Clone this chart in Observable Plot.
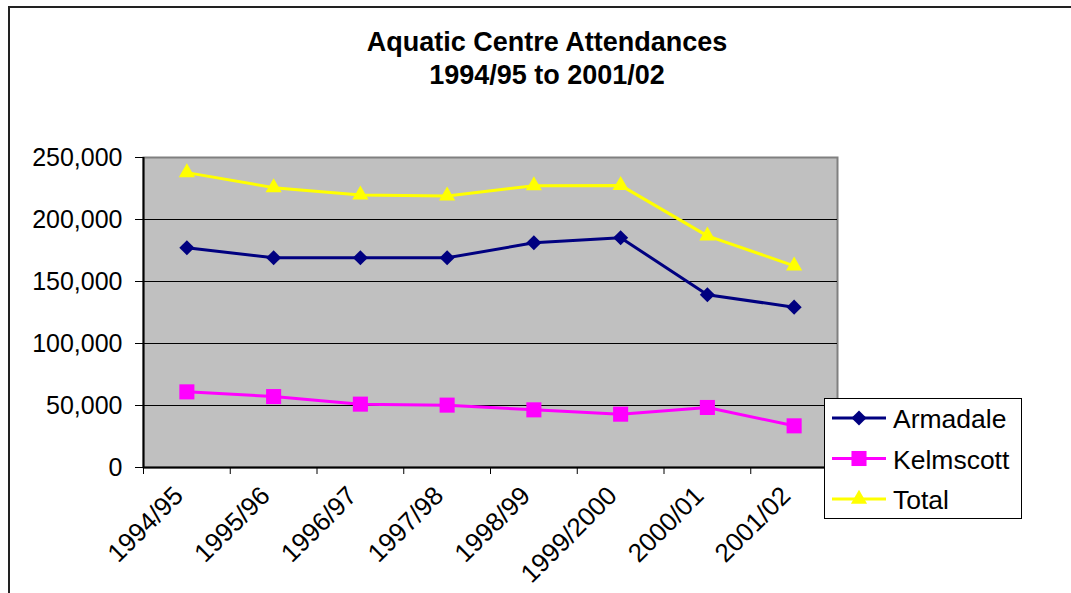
<!DOCTYPE html>
<html>
<head>
<meta charset="utf-8">
<script src="https://cdn.jsdelivr.net/npm/d3@7"></script>
<script src="https://cdn.jsdelivr.net/npm/@observablehq/plot@0.6"></script>
<style>
html, body { margin: 0; padding: 0; background: #fff; }
#wrap { position: relative; width: 1071px; height: 593px; overflow: hidden; font-family: "Liberation Sans", Arial, sans-serif; color: #000; }
#frame { position: absolute; left: 8px; top: 6px; width: 1200px; height: 800px; border-top: 2px solid #222; border-left: 2px solid #222; }
#title { position: absolute; left: 0; width: 1094px; top: 26px; text-align: center; font-weight: bold; font-size: 27px; line-height: 33px; }
#chart { position: absolute; left: 0; top: 0; }
#legend { position: absolute; left: 824px; top: 398px; }
</style>
</head>
<body>
<div id="wrap">
  <div id="frame"></div>
  <div id="title">Aquatic Centre Attendances<br>1994/95 to 2001/02</div>
  <div id="chart"></div>
  <div id="legend"></div>
</div>
<script>
const categories = ["1994/95", "1995/96", "1996/97", "1997/98", "1998/99", "1999/2000", "2000/01", "2001/02"];
const armadale  = [177200, 169100, 169100, 169100, 181200, 185300, 139300, 129300];
const kelmscott = [61000, 57200, 51100, 50300, 46500, 43000, 48400, 33600];
const total     = [237800, 225700, 219800, 219000, 227300, 227500, 186800, 162600];
const seriesNames = ["Armadale", "Kelmscott", "Total"];
const seriesColors = ["#000080", "#FF00FF", "#FFFF00"];
const seriesSymbols = ["diamond2", "square", "triangle"];
const seriesRadius = [6.8, 8.5, 6];
const yTicks = [0, 50000, 100000, 150000, 200000, 250000];

const seriesValues = [armadale, kelmscott, total];
const rows = seriesNames.flatMap((s, k) =>
  categories.map((c, i) => ({series: s, i, category: c, value: seriesValues[k][i]}))
);
const n = categories.length;

const chart = Plot.plot({
  width: 1071,
  height: 593,
  marginLeft: 143,
  marginRight: 234,
  marginTop: 157,
  marginBottom: 126,
  x: {type: "linear", domain: [-0.5, n - 0.5], label: null},
  y: {domain: [0, 250000], label: null},
  color: {domain: seriesNames, range: seriesColors},
  style: {fontFamily: '"Liberation Sans", Arial, sans-serif', fontSize: "25px", color: "#000", background: "transparent", overflow: "visible"},
  marks: [
    Plot.frame({fill: "#C0C0C0", stroke: "#808080", strokeWidth: 2}),
    Plot.gridY({ticks: yTicks.slice(1, -1), stroke: "#000", strokeOpacity: 1, strokeWidth: 1}),
    Plot.ruleX([-0.5], {stroke: "#000", strokeWidth: 2}),
    Plot.ruleY([0], {stroke: "#000", strokeWidth: 2}),
    Plot.axisY({ticks: yTicks, tickSize: 8, tickPadding: 13, tickFormat: d3.format(","), stroke: "#000", fill: "#000", fontSize: 25, label: null}),
    Plot.axisX({ticks: d3.range(-0.5, n), tickSize: 7, tickFormat: () => "", stroke: "#000", label: null}),
    Plot.axisX({ticks: d3.range(n), tickSize: 0, tickPadding: 24, dx: -8, tickRotate: -45, tickFormat: (i) => categories[i], fill: "#000", fontSize: 26, label: null}),
    ...seriesNames.map((s, k) => Plot.line(rows.filter(d => d.series === s), {x: "i", y: "value", stroke: seriesColors[k], strokeWidth: 3})),
    ...seriesNames.map((s, k) => Plot.dot(rows.filter(d => d.series === s), {x: "i", y: "value", fill: seriesColors[k], symbol: seriesSymbols[k], r: seriesRadius[k], stroke: null}))
  ]
});
document.getElementById("chart").append(chart);

// Legend
const lg = d3.select("#legend").append("svg").attr("width", 199).attr("height", 122);
lg.append("rect").attr("x", 0.5).attr("y", 0.5).attr("width", 197).attr("height", 120).attr("fill", "#fff").attr("stroke", "#000");
const symMap = {diamond2: d3.symbolDiamond2, square: d3.symbolSquare, triangle: d3.symbolTriangle};
seriesNames.forEach((s, k) => {
  const cy = 20 + k * 40.5;
  const g = lg.append("g");
  g.append("line").attr("x1", 8).attr("x2", 62).attr("y1", cy).attr("y2", cy).attr("stroke", seriesColors[k]).attr("stroke-width", 3);
  g.append("path").attr("transform", `translate(35,${cy})`).attr("d", d3.symbol(symMap[seriesSymbols[k]], Math.PI * seriesRadius[k] ** 2)()).attr("fill", seriesColors[k]);
  g.append("text").attr("x", 69).attr("y", cy + 10).attr("font-size", 26.5).attr("font-family", '"Liberation Sans", Arial, sans-serif').attr("fill", "#000").text(s);
});
</script>
</body>
</html>
